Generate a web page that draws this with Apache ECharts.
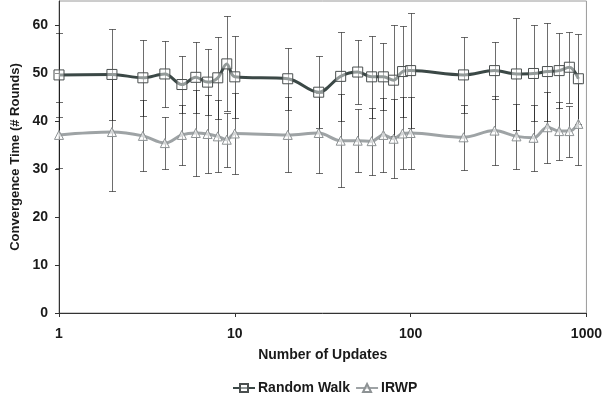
<!DOCTYPE html>
<html>
<head>
<meta charset="utf-8">
<style>
  html, body { margin: 0; padding: 0; background: #fff; }
  #chart { width: 605px; height: 402px; }
</style>
<script src="https://cdn.jsdelivr.net/npm/echarts@6/dist/echarts.min.js"></script>
</head>
<body>
<div id="chart"></div>
<script>
// Number of updates (log scale)
const updates = [1, 2, 3, 4, 5, 6, 7, 8, 9, 10, 20, 30, 40, 50, 60, 70, 80, 90, 100, 200, 300, 400, 500, 600, 700, 800, 900];

// Random Walk: mean convergence time and error (±)
const randomWalkMean = [49.6, 49.7, 49.0, 49.8, 47.6, 49.1, 48.1, 49.0, 51.9, 49.2, 48.8, 46.0, 49.3, 50.2, 49.2, 49.2, 48.5, 50.3, 50.5, 49.6, 50.5, 49.8, 49.9, 50.3, 50.5, 51.2, 48.8];
const randomWalkErr  = [8.7, 9.5, 7.9, 6.8, 5.9, 7.4, 6.9, 8.5, 9.9, 8.6, 6.5, 7.5, 9.2, 6.6, 8.5, 7.0, 11.6, 9.5, 11.9, 7.9, 5.9, 11.7, 10.0, 10.2, 7.8, 7.4, 9.4];

// IRWP: mean convergence time and error (±)
const irwpMean = [37.1, 37.7, 36.9, 35.4, 37.1, 37.5, 37.3, 36.8, 36.1, 37.4, 37.1, 37.5, 35.9, 35.9, 35.8, 37.1, 36.3, 37.4, 37.5, 36.6, 38.0, 36.8, 36.5, 38.7, 37.9, 37.9, 39.4];
const irwpErr  = [6.9, 12.2, 7.4, 5.4, 6.3, 8.9, 8.2, 7.5, 5.6, 8.4, 7.8, 8.3, 9.7, 6.5, 7.0, 7.7, 8.2, 7.5, 7.5, 6.8, 7.2, 6.8, 6.9, 7.4, 6.1, 5.3, 8.5];

// Axis ticks
const xTicks = [1, 10, 100, 1000];
const yTicks = [0, 10, 20, 30, 40, 50, 60];

const FONT = 'Liberation Sans';
const TEXT = '#1a1a1a';
const FS = 14;

function pairs(means) {
  return updates.map((u, i) => [u, means[i]]);
}
function errData(means, errs) {
  return updates.map((u, i) => [u, means[i], errs[i]]);
}

// Vertical error bar with caps, drawn crisp on the pixel grid
function renderErrorBar(params, api) {
  const x = api.value(0), m = api.value(1), e = api.value(2);
  const top = api.coord([x, m + e]);
  const bot = api.coord([x, m - e]);
  const px = Math.round(top[0]) + 0.5;
  const ty = Math.round(top[1]) + 0.5;
  const by = Math.round(bot[1]) + 0.5;
  const hw = 3.5;
  const style = { stroke: 'rgba(20,20,20,0.62)', lineWidth: 1, fill: null };
  return {
    type: 'group',
    children: [
      { type: 'line', shape: { x1: px, y1: ty, x2: px, y2: by }, style },
      { type: 'line', shape: { x1: px - hw, y1: ty, x2: px + hw, y2: ty }, style },
      { type: 'line', shape: { x1: px - hw, y1: by, x2: px + hw, y2: by }, style }
    ]
  };
}

const chart = echarts.init(document.getElementById('chart'), null, { renderer: 'canvas' });

chart.setOption({
  animation: false,
  backgroundColor: '#fff',
  textStyle: { fontFamily: FONT },
  grid: {
    left: 59, right: 16, top: 1, bottom: 89,
    show: true, borderColor: '#9a9a9a', borderWidth: 1, backgroundColor: 'transparent'
  },
  legend: {
    bottom: 2,
    left: 227,
    itemWidth: 22,
    itemHeight: 10,
    itemGap: 5,
    textStyle: { fontFamily: FONT, fontWeight: 'bold', fontSize: FS, color: TEXT, padding: [0, 0, 0, -2] },
    data: ['Random Walk', 'IRWP']
  },
  xAxis: {
    type: 'log',
    logBase: 10,
    min: 1,
    max: 1000,
    name: 'Number of Updates',
    nameLocation: 'middle',
    nameGap: 35,
    nameTextStyle: { fontFamily: FONT, fontWeight: 'bold', fontSize: FS, color: TEXT },
    axisLine: { lineStyle: { color: '#333', width: 1 } },
    axisTick: { show: true, inside: false, length: 4, lineStyle: { color: '#333' } },
    minorTick: { show: false },
    splitLine: { show: false },
    axisLabel: {
      margin: 14,
      fontFamily: FONT, fontWeight: 'bold', fontSize: FS, color: TEXT,
      formatter: v => xTicks.includes(Math.round(v)) ? String(Math.round(v)) : ''
    }
  },
  yAxis: {
    type: 'value',
    min: 0,
    max: 65,
    interval: 10,
    name: 'Convergence Time (# Rounds)',
    nameLocation: 'middle',
    nameGap: 34,
    nameTextStyle: { fontFamily: FONT, fontWeight: 'bold', fontSize: 13, color: TEXT },
    axisLine: { show: true, lineStyle: { color: '#333', width: 1 } },
    axisTick: { show: true, length: 4, lineStyle: { color: '#333' }, customValues: yTicks },
    splitLine: { show: false },
    axisLabel: {
      margin: 11,
      fontFamily: FONT, fontWeight: 'bold', fontSize: FS, color: TEXT,
      customValues: yTicks
    }
  },
  series: [
    {
      name: 'RW error',
      type: 'custom',
      renderItem: renderErrorBar,
      data: errData(randomWalkMean, randomWalkErr),
      encode: { x: 0, y: 1 },
      z: 1,
      silent: true
    },
    {
      name: 'IRWP error',
      type: 'custom',
      renderItem: renderErrorBar,
      data: errData(irwpMean, irwpErr),
      encode: { x: 0, y: 1 },
      z: 1,
      silent: true
    },
    {
      name: 'IRWP',
      type: 'line',
      data: pairs(irwpMean),
      smooth: 0.35,
      symbol: 'triangle',
      symbolSize: 9,
      showAllSymbol: true,
      lineStyle: { color: '#9ea3a5', width: 3 },
      itemStyle: { color: 'rgba(255,255,255,0.55)', borderColor: '#8d9294', borderWidth: 1 },
      z: 3
    },
    {
      name: 'Random Walk',
      type: 'line',
      data: pairs(randomWalkMean),
      smooth: 0.35,
      symbol: 'rect',
      symbolSize: 10,
      showAllSymbol: true,
      lineStyle: { color: '#3b4846', width: 3 },
      itemStyle: { color: 'rgba(255,255,255,0.45)', borderColor: '#4a4f4f', borderWidth: 1 },
      z: 4
    }
  ]
});
</script>
</body>
</html>
